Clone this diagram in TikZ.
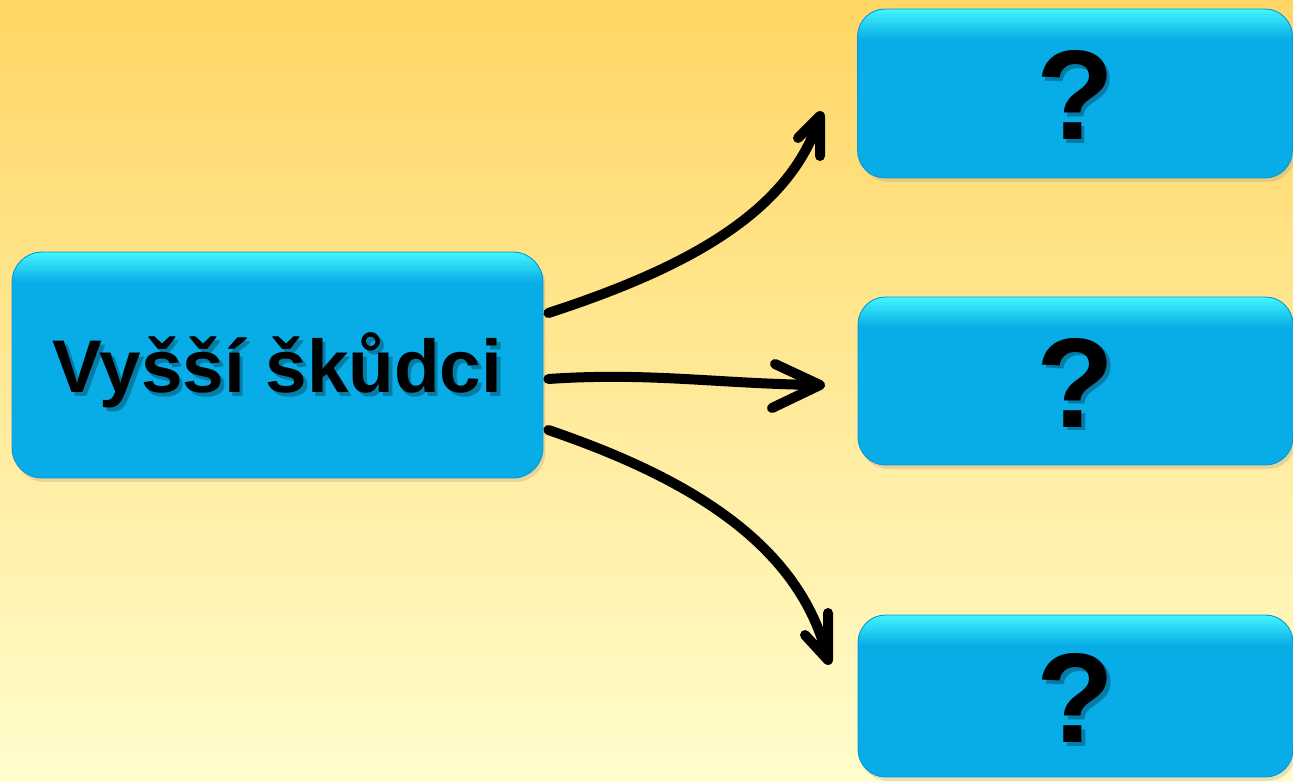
\documentclass[tikz,border=0pt]{standalone}
\usepackage{fontspec}
\setmainfont{Liberation Sans}
\usepackage{tikz}
\usetikzlibrary{calc,shadows}
\definecolor{bgtop}{HTML}{FFD664}
\definecolor{bgmid}{HTML}{FFF3B4}
\definecolor{bgbot}{HTML}{FFFDCD}
\definecolor{boxblue}{HTML}{08ACE7}
\definecolor{glow}{HTML}{44F8FF}
\definecolor{boxedge}{HTML}{0A96D4}
\tikzset{
  box/.style={rounded corners=0.55cm, draw=boxedge, line width=0.5pt, fill=boxblue,
    inner sep=0pt, text=black,
    drop shadow={opacity=0.22, shadow xshift=0.05cm, shadow yshift=-0.08cm},
    path picture={\foreach \i [evaluate=\i as \op using 0.95-0.08*\i] in {0,...,11}
      \fill[glow, opacity=\op, sharp corners]
        ([yshift=-\i*0.05cm]path picture bounding box.north west)
        rectangle ([yshift=-\i*0.05cm-0.05cm]path picture bounding box.north east);}},
  srcbox/.style={box, minimum width=10.62cm, minimum height=4.52cm, rounded corners=0.6cm},
  qbox/.style={box, minimum width=8.7cm},
  big/.style={font=\bfseries\fontsize{42.5}{50}\selectfont, text height=1.1cm, text depth=0pt},
  qmark/.style={font=\bfseries\fontsize{72.6}{80}\selectfont, text height=1.86cm, text depth=0pt},
  shadowtxt/.style={text=black, opacity=0.28, xshift=0.07cm, yshift=-0.07cm},
  pen/.style={draw=black, line width=0.2cm, line cap=round, line join=round}
}
\begin{document}
\begin{tikzpicture}[x=0.02cm, y=-0.02cm]
  \useasboundingbox (0,0) rectangle (1293,781);
  \shade[top color=bgtop, middle color=bgmid, bottom color=bgbot] (0,0) rectangle (1293,781);

  % boxes
  \node[srcbox, big, label={[big, shadowtxt]center:Vyšší škůdci}] (src) at (277.5,365) {Vyšší škůdci};
  \node[qbox, qmark, minimum height=3.38cm, label={[qmark, shadowtxt]center:?}] (q1) at (1075,93.5) {?};
  \node[qbox, qmark, minimum height=3.36cm, label={[qmark, shadowtxt]center:?}] (q2) at (1075.5,381) {?};
  \node[qbox, qmark, minimum height=3.24cm, label={[qmark, shadowtxt]center:?}] (q3) at (1075.5,696) {?};

  % arrow tips
  \coordinate (tipA) at (820,116);
  \coordinate (tipB) at (820,385);
  \coordinate (tipC) at (828,660);

  \draw[pen] ([xshift=0.1cm, yshift=1.04cm]src.east) .. controls (680,270) and (790,215) .. (tipA)
    -- ++(-22,22) (tipA) -- ++(0,40);
  \draw[pen] ([xshift=0.1cm, yshift=-0.28cm]src.east) .. controls (650,372) and (720,384) .. (tipB)
    -- ++(-45,-21) (tipB) -- ++(-48,23);
  \draw[pen] ([xshift=0.1cm, yshift=-1.3cm]src.east) .. controls (680,475) and (800,540) .. (tipC)
    -- ++(-23,-25) (tipC) -- ++(0,-47);
\end{tikzpicture}
\end{document}
